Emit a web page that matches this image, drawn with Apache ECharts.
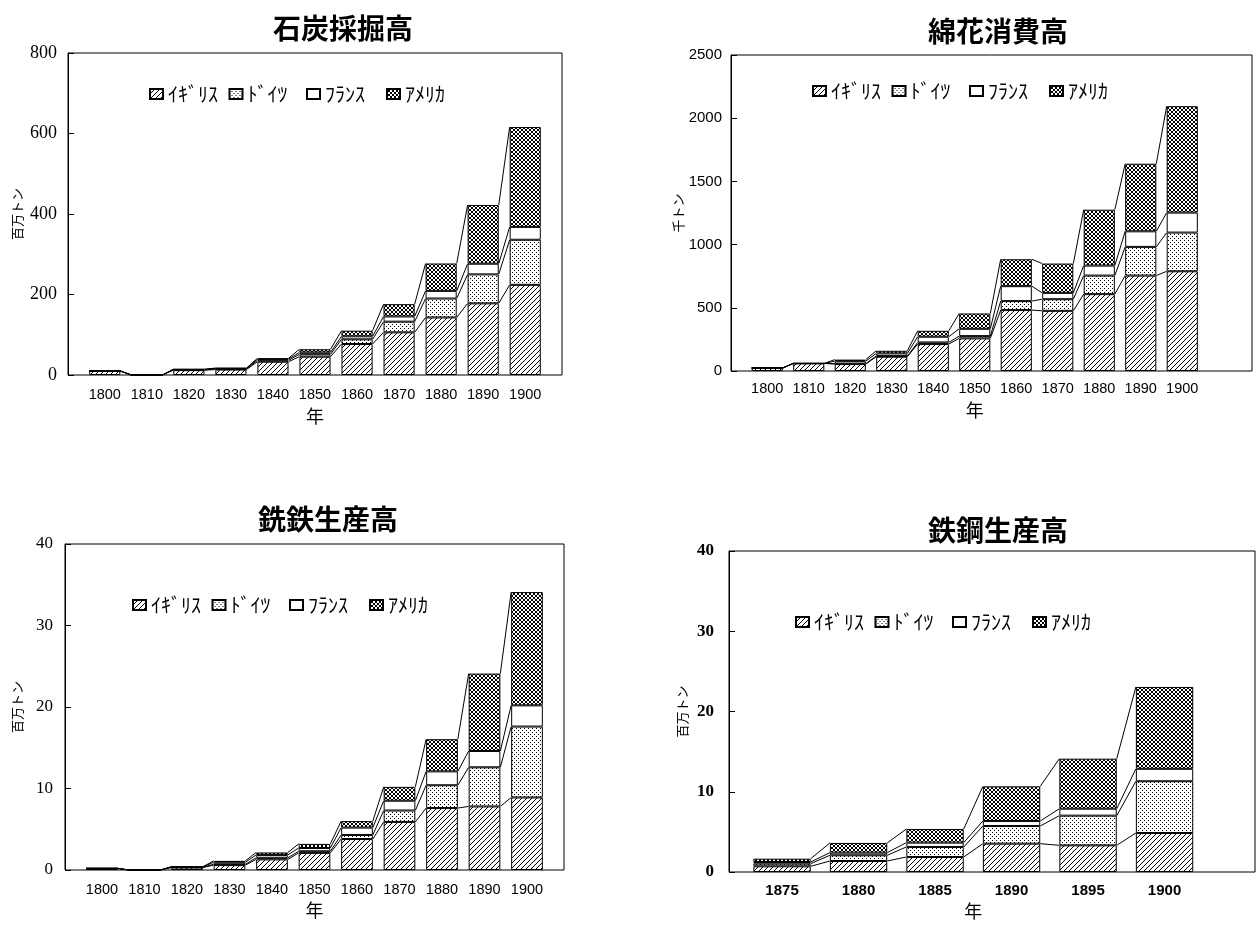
<!DOCTYPE html>
<html>
<head>
<meta charset="utf-8">
<script src="https://cdn.jsdelivr.net/npm/echarts@6/dist/echarts.min.js"></script>
<style>
  html, body { margin: 0; padding: 0; background: #fff; }
  #chart { width: 1258px; height: 926px; }
</style>
</head>
<body>
<div id="chart"></div>
<script>
// 国名 (半角カナ)
const countries = ['ｲｷﾞﾘｽ', 'ﾄﾞｲﾂ', 'ﾌﾗﾝｽ', 'ｱﾒﾘｶ'];

const decadeYears = ['1800', '1810', '1820', '1830', '1840', '1850', '1860', '1870', '1880', '1890', '1900'];
const steelYears = ['1875', '1880', '1885', '1890', '1895', '1900'];

// 石炭採掘高 (百万トン)
const coalBritain = [10, 0, 12, 13.5, 33, 45.5, 77, 106, 143, 178, 224];
const coalGermany = [0, 0, 1, 1.5, 3.4, 6, 11.6, 26.5, 47, 72, 112];
const coalFrance  = [0, 0, 1, 1.5, 3.0, 4.5, 7.5, 13, 19, 26.5, 32];
const coalAmerica = [0, 0, 0.3, 0.7, 2.0, 8, 14, 30.5, 68, 146, 248];

// 綿花消費高 (千トン)
const cottonBritain = [24, 60, 55, 113, 213, 258, 482, 476, 608, 755, 789];
const cottonGermany = [0, 0, 3, 5, 13, 18, 71, 92, 147, 227, 306];
const cottonFrance  = [0, 0, 20, 21, 45, 58, 118, 50, 79, 123, 158];
const cottonAmerica = [0, 0, 12, 21, 47, 121, 213, 232, 442, 535, 842];

// 銑鉄生産高 (百万トン)
const ironBritain = [0.2, 0, 0.3, 0.6, 1.3, 2.1, 3.8, 5.9, 7.6, 7.8, 8.9];
const ironGermany = [0, 0, 0.03, 0.1, 0.2, 0.2, 0.5, 1.4, 2.8, 4.8, 8.7];
const ironFrance  = [0, 0, 0.05, 0.25, 0.35, 0.4, 0.9, 1.2, 1.7, 2.0, 2.6];
const ironAmerica = [0, 0, 0.02, 0.17, 0.3, 0.5, 0.8, 1.7, 3.95, 9.5, 13.9];

// 鉄鋼生産高 (百万トン)
const steelBritain = [0.71, 1.37, 1.87, 3.53, 3.32, 4.86];
const steelGermany = [0.33, 0.71, 1.25, 2.2, 3.7, 6.45];
const steelFrance  = [0.21, 0.33, 0.54, 0.62, 0.87, 1.55];
const steelAmerica = [0.41, 1.21, 1.7, 4.32, 6.23, 10.2];

// --- fill patterns (hatch / dots / plain / cross-hatch) ---
function tile(size, pixels) {
  const c = document.createElement('canvas');
  c.width = c.height = size;
  const ctx = c.getContext('2d');
  ctx.fillStyle = '#fff';
  ctx.fillRect(0, 0, size, size);
  ctx.fillStyle = '#000';
  pixels.forEach(([x, y]) => ctx.fillRect(x, y, 1, 1));
  return { image: c, repeat: 'repeat' };
}
const hatch = tile(5, [[0, 4], [1, 3], [2, 2], [3, 1], [4, 0]]);
const dots = tile(4, [[0, 0], [2, 2]]);
const plain = '#ffffff';
const cross = tile(4, [[0, 0], [1, 1], [2, 2], [3, 3], [0, 3], [1, 2], [2, 1], [3, 0]]);
const fills = [hatch, dots, plain, cross];

const jp = '"Noto Sans CJK JP", sans-serif';
// legend slot offsets from the first swatch
const legendSlots = [0, 79.5, 157, 237];

const option = {
  animation: false,
  backgroundColor: '#fff',
  title: [], legend: [], grid: [], xAxis: [], yAxis: [], series: []
};

function addPanel(p) {
  const fi = option.grid.length;
  // plot frame
  option.grid.push({
    left: p.frame[0], top: p.frame[1], width: p.frame[2], height: p.frame[3],
    show: true, borderColor: '#000', borderWidth: 1, backgroundColor: 'transparent'
  });
  option.xAxis.push({ gridIndex: fi, type: 'value', show: false, min: 0, max: 1 });
  option.yAxis.push({ gridIndex: fi, type: 'value', show: false, min: 0, max: 1 });

  // data area inside the frame
  const di = fi + 1;
  option.grid.push({ left: p.dataLeft, top: p.frame[1], width: p.dataWidth, height: p.frame[3] });
  option.xAxis.push({
    gridIndex: di, type: 'category', data: p.categories,
    axisLine: { show: false }, axisTick: { show: false }, splitLine: { show: false },
    axisLabel: Object.assign({ color: '#000', margin: p.xLabelMargin, interval: 0 }, p.xLabelFont),
    name: '年', nameLocation: 'middle', nameGap: p.xNameGap,
    nameTextStyle: { color: '#000', fontFamily: jp, fontSize: 18 }
  });
  option.yAxis.push({
    gridIndex: di, type: 'value', min: 0, max: p.max, interval: p.interval,
    offset: p.dataLeft - p.frame[0],
    axisLine: { show: true, lineStyle: { color: '#000', width: 1 } },
    axisTick: { show: true, inside: true, length: 6, lineStyle: { color: '#000' } },
    splitLine: { show: false },
    axisLabel: Object.assign({ color: '#000', margin: p.yLabelMargin, formatter: v => String(v) }, p.yLabelFont),
    name: p.yName, nameLocation: 'middle', nameRotate: 90, nameGap: p.yNameGap,
    nameTextStyle: { color: '#000', fontFamily: jp, fontSize: 13 }
  });

  option.title.push({
    text: p.title, left: p.titlePos[0], top: p.titlePos[1],
    textStyle: { fontFamily: jp, fontSize: 28, fontWeight: 'bold', color: '#000' }
  });

  countries.forEach((name, k) => {
    option.legend.push({
      data: [name], left: p.legendPos[0] + legendSlots[k], top: p.legendPos[1],
      icon: 'rect', itemWidth: 13, itemHeight: 10, selectedMode: false,
      textStyle: { color: '#000', fontFamily: jp, fontSize: 20 }
    });
  });

  const n = p.categories.length;
  const cum = [];
  p.values.forEach((vals, k) => {
    cum.push(vals.map((v, i) => v + (k > 0 ? cum[k - 1][i] : 0)));
    option.series.push({
      type: 'bar', name: countries[k], stack: 'panel' + di,
      xAxisIndex: di, yAxisIndex: di, data: vals,
      barCategoryGap: p.gap * 100 + '%',
      itemStyle: { color: fills[k], borderColor: '#000', borderWidth: 1 },
      emphasis: { disabled: true }, silent: true
    });
  });

  // series lines joining each stack level between neighbouring bars
  const links = [];
  for (let i = 0; i < n - 1; i++) {
    links.push([i, cum[0][i], cum[1][i], cum[2][i], cum[3][i], cum[0][i + 1], cum[1][i + 1], cum[2][i + 1], cum[3][i + 1]]);
  }
  const gap = p.gap;
  option.series.push({
    type: 'custom', xAxisIndex: di, yAxisIndex: di, silent: true, data: links,
    encode: { x: 0, y: [1, 2, 3, 4, 5, 6, 7, 8] },
    renderItem: function (params, api) {
      const i = api.value(0);
      const band = api.size([1, 0])[0];
      const half = band * (1 - gap) / 2;
      const children = [];
      for (let k = 0; k < 4; k++) {
        const a = api.coord([i, api.value(1 + k)]);
        const b = api.coord([i + 1, api.value(5 + k)]);
        children.push({
          type: 'line',
          shape: { x1: a[0] + half, y1: a[1], x2: b[0] - half, y2: b[1] },
          style: { stroke: '#000', lineWidth: 1 }
        });
      }
      return { type: 'group', children: children };
    }
  });
}

const sans = { fontFamily: '"Liberation Sans", sans-serif', fontSize: 14.5 };

addPanel({
  title: '石炭採掘高', titlePos: [268, 9], legendPos: [144, 79],
  frame: [68, 53, 494, 322], dataLeft: 83.75, dataWidth: 462.5, gap: 0.26,
  categories: decadeYears, values: [coalBritain, coalGermany, coalFrance, coalAmerica],
  max: 800, interval: 200, yName: '百万トン', yNameGap: 44, xNameGap: 32,
  xLabelFont: sans, xLabelMargin: 12,
  yLabelFont: { fontFamily: '"Liberation Serif", serif', fontSize: 18 }, yLabelMargin: 11
});
addPanel({
  title: '綿花消費高', titlePos: [923, 12], legendPos: [807, 76],
  frame: [731, 55, 521, 316], dataLeft: 746.5, dataWidth: 456.5, gap: 0.25,
  categories: decadeYears, values: [cottonBritain, cottonGermany, cottonFrance, cottonAmerica],
  max: 2500, interval: 500, yName: '千トン', yNameGap: 33, xNameGap: 30,
  xLabelFont: sans, xLabelMargin: 10,
  yLabelFont: { fontFamily: '"Liberation Sans", sans-serif', fontSize: 15 }, yLabelMargin: 9
});
addPanel({
  title: '銑鉄生産高', titlePos: [253, 500], legendPos: [127, 590],
  frame: [65, 544, 499, 326], dataLeft: 80.75, dataWidth: 467.5, gap: 0.255,
  categories: decadeYears, values: [ironBritain, ironGermany, ironFrance, ironAmerica],
  max: 40, interval: 10, yName: '百万トン', yNameGap: 41, xNameGap: 31,
  xLabelFont: sans, xLabelMargin: 12,
  yLabelFont: { fontFamily: '"Liberation Serif", serif', fontSize: 17 }, yLabelMargin: 12
});
addPanel({
  title: '鉄鋼生産高', titlePos: [923, 511], legendPos: [790, 607],
  frame: [729, 551, 526, 321], dataLeft: 743.8, dataWidth: 459, gap: 0.25,
  categories: steelYears, values: [steelBritain, steelGermany, steelFrance, steelAmerica],
  max: 40, interval: 10, yName: '百万トン', yNameGap: 40, xNameGap: 30,
  xLabelFont: { fontFamily: '"Liberation Sans", sans-serif', fontSize: 15, fontWeight: 'bold' }, xLabelMargin: 11,
  yLabelFont: { fontFamily: '"Liberation Serif", serif', fontSize: 17, fontWeight: 'bold' }, yLabelMargin: 15
});

const chart = echarts.init(document.getElementById('chart'), null, { renderer: 'canvas' });
chart.setOption(option);
</script>
</body>
</html>
